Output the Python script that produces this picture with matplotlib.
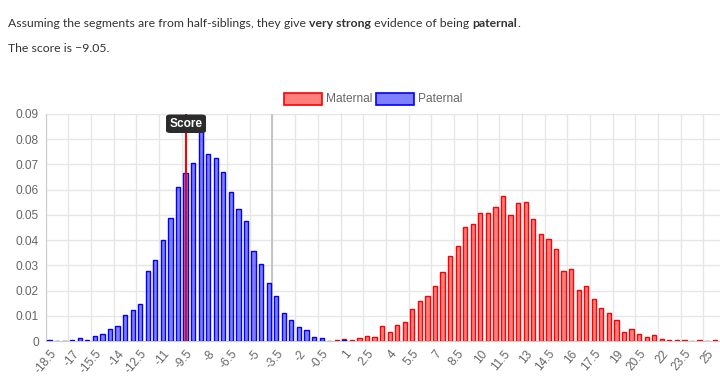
import numpy as np
import matplotlib
matplotlib.use("Agg")
import matplotlib.pyplot as plt
from matplotlib.patches import FancyBboxPatch, Rectangle

# category labels, step 0.5
categories = np.arange(-18.5, 26.01, 0.5)

# paternal histogram, starting at -18.5
paternal = [0.0002, 0.0, 0.0, 0.0003, 0.0010, 0.0004, 0.0019, 0.0027, 0.0047, 0.0061,
            0.0102, 0.0121, 0.0148, 0.0277, 0.0321, 0.0401, 0.0489, 0.0610, 0.0668, 0.0704,
            0.0835, 0.0742, 0.0725, 0.0671, 0.0591, 0.0522, 0.0476, 0.0357, 0.0306, 0.0229,
            0.0180, 0.0110, 0.0082, 0.0054, 0.0042, 0.0017, 0.0012, 0.0001, 0.0, 0.0004]
paternal_start = -18.5

# maternal histogram, starting at 0.5
maternal = [0.0004, 0.0006, 0.0004, 0.0011, 0.0021, 0.0016, 0.0060, 0.0034, 0.0063, 0.0077,
            0.0128, 0.0157, 0.0177, 0.0217, 0.0272, 0.0336, 0.0377, 0.0451, 0.0465, 0.0508,
            0.0507, 0.0532, 0.0573, 0.0501, 0.0546, 0.0550, 0.0483, 0.0423, 0.0405, 0.0364,
            0.0278, 0.0287, 0.0201, 0.0220, 0.0167, 0.0132, 0.0110, 0.0085, 0.0037, 0.0048,
            0.0028, 0.0015, 0.0024, 0.0008, 0.0005, 0.0005, 0.0004, 0.0001, 0.0004, 0.0001,
            0.0002, 0.0]
maternal_start = 0.5

score = -9.05
score_bin = -9.5
divider_bin = -3.75
yticks = [0, 0.01, 0.02, 0.03, 0.04, 0.05, 0.06, 0.07, 0.08, 0.09]

W, H = 720, 385
fig = plt.figure(figsize=(W / 100, H / 100), dpi=100)
ax = fig.add_axes([45.7 / W, (H - 341) / H, 1 - 45.7 / W, (341 - 114) / H])

def idx(v):
    return (v - categories[0]) / 0.5

xm = idx(maternal_start) + np.arange(len(maternal))
xp = idx(paternal_start) + np.arange(len(paternal))
ax.bar(xm, maternal, width=0.56, color=(1, 0, 0, 0.5), edgecolor="#ff0000", linewidth=1.0, zorder=3)
ax.bar(xp, paternal, width=0.56, color=(0, 0, 1, 0.5), edgecolor="#0000ff", linewidth=1.0, zorder=3)

ax.set_xlim(-0.5, 88.7)
ax.set_ylim(0, 0.09)

# grid
for g in np.arange(-0.5, 89, 3):
    ax.axvline(g, color="#e6e6e6", lw=1, zorder=1)
for t in yticks[1:]:
    ax.axhline(t, color="#e6e6e6", lw=1, zorder=1)
ax.axvline(idx(divider_bin), color="#c4c4c4", lw=1.4, zorder=2)

for s in ["top", "right"]:
    ax.spines[s].set_visible(False)
ax.spines["left"].set_color("#cccccc")
ax.spines["bottom"].set_color("#cccccc")

ax.set_yticks(yticks)
ax.set_yticklabels(["0"] + ["%.2f" % t for t in yticks[1:]])
tick_idx = np.arange(0, len(categories), 3)
ax.set_xticks(tick_idx)
ax.set_xticklabels(["%g" % categories[i] for i in tick_idx], rotation=50,
                   ha="right", va="top", rotation_mode="anchor")
ax.tick_params(length=0, labelsize=8.6, labelcolor="#666666", pad=5)
for lab in ax.get_xticklabels() + ax.get_yticklabels():
    lab.set_fontfamily("Liberation Sans")

# score line and label
sx = idx(score_bin)
ax.axvline(sx, color="#ff0000", lw=1.5, zorder=4)
fig.patches.append(FancyBboxPatch(((186 - 20) / W, (H - 133) / H), 40 / W, 18.5 / H,
                                  boxstyle="round,pad=0,rounding_size=0.006",
                                  transform=fig.transFigure, facecolor="#2b2b2b",
                                  edgecolor="none", zorder=10))
fig.text(186 / W, (H - 124) / H, "Score", color="white", fontsize=8.6, fontweight="bold",
         ha="center", va="center", family="Liberation Sans", zorder=11)

# legend
for x0, lab, fc, ec in [(284, "Maternal", (1, 0, 0, 0.5), "#ff0000"),
                        (376, "Paternal", (0, 0, 1, 0.5), "#0000ff")]:
    fig.patches.append(Rectangle((x0 / W, (H - 105) / H), 38 / W, 12 / H,
                                 transform=fig.transFigure, facecolor=fc, edgecolor=ec, lw=1.2))
    fig.text((x0 + 42) / W, (H - 99) / H, lab, color="#666666", fontsize=8.6,
             va="center", ha="left", family="Liberation Sans")

# header text with bold pieces
fig.canvas.draw()
rend = fig.canvas.get_renderer()

def write_line(parts, y):
    x = 8
    for txt, bold in parts:
        t = fig.text(x / W, (H - y) / H, txt, fontsize=8.8, color="#333333",
                     family="Lato", fontweight="bold" if bold else "normal", va="baseline")
        x += t.get_window_extent(rend).width

write_line([("Assuming the segments are from half-siblings, they give ", False),
            ("very strong", True), (" evidence of being ", False), ("paternal", True),
            (".", False)], 27)
write_line([("The score is \u22129.05.", False)], 52)

fig.savefig("out.png", dpi=100)
